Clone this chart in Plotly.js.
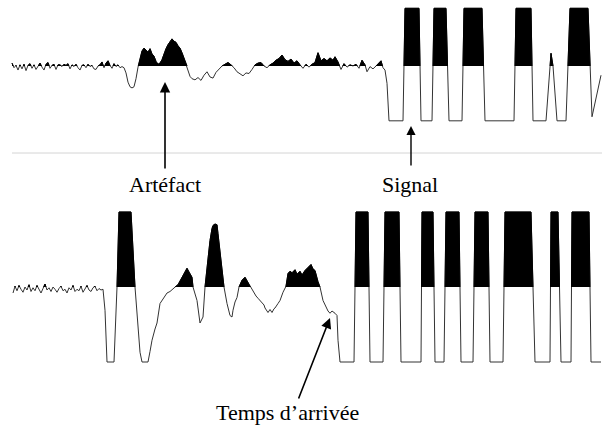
<!DOCTYPE html>
<html>
<head>
<meta charset="utf-8">
<script src="https://cdn.plot.ly/plotly-3.0.1.min.js"></script>
<style>html,body{margin:0;padding:0;background:#fff;}#chart{width:602px;height:428px;}</style>
</head>
<body>
<div id="chart"></div>
<script>
// Upper recording: artefact then signal (amplitude normalised, +1 = top saturation)
var topTime = [12,14,16,18,20,22,24,26,28,30,32,34,36,38,40,42,44,46,48,50,52,54,56,58,60,62,64,66,68,70,72,74,76,78,80,82,84,86,88,90,92,94,96,98,100,102,104,106,108,110,112,114,116,118,120,122,
  124,126,128,130,132,134,136,138,140,142,144,146,148,150,152,154,156,158,160,162,164,166,168,170,172,174,176,178,180,182,184,186,188,190,192,195,198,201,204,207,210,213,216,219,222,225,228,231,234,237,240,243,246,249,252,255,258,261,264,267,270,273,276,279,282,285,288,291,294,297,300,303,306,309,312,315,318,321,324,327,330,333,335,338,341,344,347,350,353,356,359,362,365,367,370,373,376,379,381,383,385,387,388,389,
  403,405,419,421,432,434,446,449,462,464,482,485,514,516,531,533,546,551,553,557,566,570,588,592,601];
var topAmp = [0.05,-0.03,0.01,-0.07,0.02,-0.05,0.03,-0.08,0.01,0.04,-0.04,0.02,-0.06,0.00,0.05,-0.02,-0.07,0.03,0.06,-0.04,0.01,0.03,-0.06,0.02,0.02,-0.01,0.03,0.01,0.04,-0.05,0.02,-0.01,0.03,-0.03,-0.07,0.01,0.02,-0.03,0.03,-0.01,0.01,-0.05,-0.06,0.00,0.02,0.07,-0.03,0.05,0.09,0.01,-0.04,0.04,-0.01,0.02,-0.03,-0.01,
  -0.03,-0.12,-0.28,-0.36,-0.38,-0.36,-0.22,-0.02,0.12,0.26,0.31,0.27,0.24,0.30,0.21,0.17,0.08,0.03,0.05,0.11,0.22,0.30,0.37,0.42,0.47,0.43,0.41,0.35,0.31,0.23,0.12,0.00,-0.07,-0.18,-0.22,-0.24,-0.20,-0.25,-0.16,-0.10,-0.19,-0.21,-0.11,-0.06,0.00,0.03,0.06,0.02,-0.03,-0.10,-0.14,-0.17,-0.12,-0.13,-0.06,0.02,0.05,0.06,0.00,-0.03,0.02,0.05,0.10,0.13,0.19,0.11,0.08,0.12,0.05,0.09,0.02,-0.04,0.03,-0.02,0.03,0.06,0.23,0.09,0.13,0.09,0.14,0.10,0.16,0.07,-0.06,0.04,-0.02,0.02,0.00,0.03,-0.04,0.10,0.02,-0.10,-0.01,-0.05,0.00,0.05,0.09,-0.03,-0.07,-0.30,-0.60,-0.95,
  -0.95,1.0,1.0,-0.95,-0.95,1.0,1.0,-0.95,-0.95,1.0,1.0,-0.95,-0.95,1.0,1.0,-0.95,-0.95,0.22,0.0,-0.95,-0.95,1.0,1.0,-0.88,-0.16];

// Lower recording: arrival time example
var botTime = [13,15,17,19,21,23,25,27,29,31,33,35,37,39,41,43,45,47,49,51,53,55,57,59,61,63,65,67,69,71,73,75,77,79,81,83,85,87,89,91,93,95,97,99,101,103,
  105,107,114,117,119,131,135,137,140,142,148,150,152,155,157,160,163,167,170,173,176,178,181,184,187,189,192,193,195,197,200,203,205,207,210,212,213,215,217,218,220,222,224,227,230,232,233,235,237,239,242,245,248,250,253,256,258,260,262,264,265,267,268,270,272,274,275,278,280,283,286,288,290,292,295,297,300,302,305,308,311,313,315,318,320,323,326,328,330,332,335,337,338,340,
  354,356,368,370,383,385,399,401,421,422,433,435,444,446,459,461,473,475,488,490,503,505,531,535,550,551,558,561,571,572,589,591,601];
var botAmp = [-0.08,0.01,-0.05,0.02,-0.03,-0.07,0.00,-0.04,0.03,-0.06,-0.01,-0.05,0.02,-0.03,-0.08,-0.02,0.04,-0.04,-0.01,-0.06,0.00,-0.03,-0.07,-0.02,0.01,-0.05,-0.03,-0.08,-0.01,-0.04,0.02,-0.06,-0.03,-0.05,0.01,-0.07,-0.02,0.02,-0.04,-0.06,-0.01,0.01,-0.05,-0.02,-0.04,-0.03,
  -0.31,-1.0,-1.0,0.0,1.0,1.0,0.0,-0.40,-0.87,-1.0,-1.0,-0.86,-0.71,-0.56,-0.48,-0.22,-0.16,-0.08,-0.06,-0.02,0.01,0.03,0.11,0.18,0.25,0.20,0.13,0.00,-0.10,-0.18,-0.48,-0.40,0.00,0.26,0.62,0.78,0.82,0.84,0.83,0.71,0.45,0.26,0.00,-0.22,-0.38,-0.40,-0.31,-0.20,-0.14,0.00,0.09,0.13,0.06,0.00,-0.07,-0.12,-0.15,-0.18,-0.22,-0.24,-0.28,-0.31,-0.34,-0.30,-0.34,-0.29,-0.28,-0.22,-0.18,-0.07,0.01,0.18,0.21,0.19,0.23,0.17,0.21,0.16,0.22,0.26,0.30,0.24,0.22,0.07,0.00,-0.18,-0.28,-0.32,-0.35,-0.32,-0.35,-0.38,-0.71,-1.0,
  -1.0,1.0,1.0,-1.0,-1.0,1.0,1.0,-1.0,-1.0,1.0,1.0,-1.0,-1.0,1.0,1.0,-1.0,-1.0,1.0,1.0,-1.0,-1.0,1.0,1.0,-1.0,-1.0,1.0,1.0,-1.0,-1.0,1.0,1.0,-1.0,-1.0];

var labels = ['Artéfact', 'Signal', 'Temps d\u2019arrivée'];

var W = 602, H = 428;
// vertical placement (pixels from top) of each recording: baseline and px per unit
var topBase = 66, topScale = 57.7;
var botBase = 287, botScale = 75;

var traces = [
  {x: topTime, y: topAmp, type: 'scatter', mode: 'lines', xaxis: 'x', yaxis: 'y3',
   fill: 'tozeroy', fillcolor: '#000', line: {color: '#000', width: 1}, hoverinfo: 'skip'},
  {x: botTime, y: botAmp, type: 'scatter', mode: 'lines', xaxis: 'x', yaxis: 'y4',
   fill: 'tozeroy', fillcolor: '#000', line: {color: '#000', width: 1}, hoverinfo: 'skip'},
  {x: topTime, y: topAmp, type: 'scatter', mode: 'lines', xaxis: 'x', yaxis: 'y',
   line: {color: '#333', width: 1}, hoverinfo: 'skip'},
  {x: botTime, y: botAmp, type: 'scatter', mode: 'lines', xaxis: 'x', yaxis: 'y2',
   line: {color: '#333', width: 1}, hoverinfo: 'skip'}
];

var hidden = {visible: false, showgrid: false, zeroline: false, fixedrange: true};
function ax(o) { return Object.assign({}, hidden, o); }

var txtFont = {family: 'Liberation Serif, serif', size: 22, color: '#000'};
function py(p) { return 1 - p / H; }

var layout = {
  width: W, height: H,
  margin: {l: 0, r: 0, t: 0, b: 0, pad: 0},
  paper_bgcolor: '#fff', plot_bgcolor: 'rgba(0,0,0,0)',
  showlegend: false,
  xaxis: ax({range: [0, W], anchor: 'y'}),
  yaxis: ax({domain: [0, 1], range: [topBase / topScale - H / topScale, topBase / topScale], anchor: 'x'}),
  yaxis2: ax({overlaying: 'y', range: [botBase / botScale - H / botScale, botBase / botScale], anchor: 'x'}),
  yaxis3: ax({domain: [1 - topBase / H, 1], range: [0, topBase / topScale], anchor: 'x'}),
  yaxis4: ax({domain: [1 - botBase / H, 1], range: [0, botBase / botScale], anchor: 'x'}),
  shapes: [
    {type: 'line', xref: 'x', yref: 'paper', x0: 12, x1: 602, y0: py(153), y1: py(153),
     line: {color: '#d4d4d4', width: 1}}
  ],
  annotations: [
    {xref: 'x', yref: 'paper', x: 165, y: py(184), text: labels[0], showarrow: false, font: txtFont, xanchor: 'center', yanchor: 'middle'},
    {xref: 'x', yref: 'paper', x: 410, y: py(184), text: labels[1], showarrow: false, font: txtFont, xanchor: 'center', yanchor: 'middle'},
    {xref: 'x', yref: 'paper', x: 287, y: py(412), text: labels[2], showarrow: false, font: txtFont, xanchor: 'center', yanchor: 'middle'},
    {xref: 'x', yref: 'paper', x: 165, y: py(82), text: '', showarrow: true, ax: 0, ay: 88,
     arrowhead: 2, arrowsize: 1.3, arrowwidth: 1.6, arrowcolor: '#000'},
    {xref: 'x', yref: 'paper', x: 411, y: py(126), text: '', showarrow: true, ax: 0, ay: 41,
     arrowhead: 2, arrowsize: 1.3, arrowwidth: 1.4, arrowcolor: '#000'},
    {xref: 'x', yref: 'paper', x: 330, y: py(318), text: '', showarrow: true, ax: -32, ay: 82,
     arrowhead: 2, arrowsize: 1.3, arrowwidth: 1.6, arrowcolor: '#000'}
  ]
};

Plotly.newPlot('chart', traces, layout, {staticPlot: true, displayModeBar: false});
</script>
</body>
</html>
